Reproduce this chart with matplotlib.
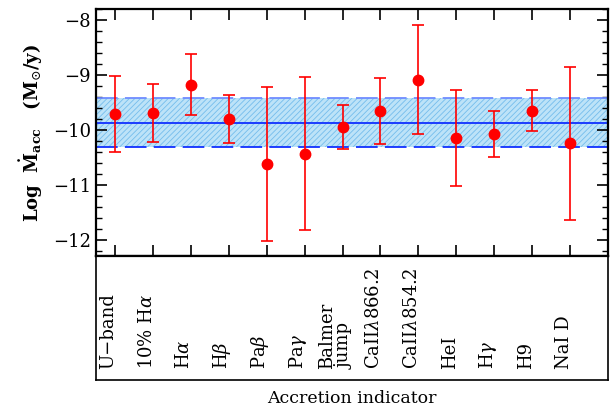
import matplotlib
matplotlib.use('Agg')
import matplotlib.pyplot as plt
from matplotlib.ticker import MultipleLocator

## values
labels = ['U\u2212band', '10% H$\\alpha$', 'H$\\alpha$', 'H$\\beta$', 'Pa$\\beta$', 'Pa$\\gamma$',
          'Balmer\njump', 'CaII$\\lambda$866.2', 'CaII$\\lambda$854.2', 'HeI', 'H$\\gamma$', 'H9', 'NaI D']
logmacc = [-9.71, -9.69, -9.18, -9.80, -10.62, -10.44, -9.95, -9.65, -9.09, -10.15, -10.07, -9.65, -10.24]
err_hi = [-9.02, -9.16, -8.61, -9.36, -9.21, -9.04, -9.55, -9.06, -8.08, -9.28, -9.66, -9.28, -8.85]
err_lo = [-10.41, -10.22, -9.73, -10.24, -12.02, -11.82, -10.34, -10.25, -10.08, -11.03, -10.49, -10.02, -11.64]
mean_val = -9.87
band_hi = -9.42
band_lo = -10.31

plt.rcParams['font.family'] = ['DejaVu Serif']
plt.rcParams['mathtext.fontset'] = 'dejavuserif'
plt.rcParams['hatch.linewidth'] = 0.6

fig = plt.figure(figsize=(6.16, 4.07), dpi=100)
ax = fig.add_axes([0.156, 0.371, 0.831, 0.606])
axb = fig.add_axes([0.156, 0.066, 0.831, 0.305])

x = list(range(len(labels)))
xlim = (-0.5, 13.0)

ax.fill_between([xlim[0], xlim[1]], band_lo, band_hi, facecolor='#bde3f8',
                edgecolor='#74bdec', hatch='//////', linewidth=0, zorder=1)
ax.axhline(mean_val, color='#1030ff', lw=1.3, zorder=2)
ax.axhline(band_hi, color='#6f8cff', lw=1.3, ls=(0, (12, 4)), zorder=2)
ax.axhline(band_lo, color='#1030ff', lw=1.3, ls=(0, (12, 4)), zorder=2)

yerr = [[v - l for v, l in zip(logmacc, err_lo)], [h - v for v, h in zip(logmacc, err_hi)]]
ax.errorbar(x, logmacc, yerr=yerr, fmt='o', color='red', ms=7.5, elinewidth=1.2,
            capsize=4.5, capthick=1.2, zorder=3)

ax.set_xlim(*xlim)
ax.set_ylim(-12.3, -7.8)
ax.yaxis.set_major_locator(MultipleLocator(1))
ax.yaxis.set_minor_locator(MultipleLocator(0.2))
ax.set_xticks(x)
ax.set_xticklabels([])
ax.tick_params(axis='both', which='major', direction='in', length=8, width=1.2,
               top=True, right=True, labelsize=13)
ax.tick_params(axis='y', which='minor', direction='in', length=4, width=1.0, right=True)
ax.tick_params(axis='x', which='minor', bottom=False, top=False)
ax.set_ylabel(r'Log  $\mathbf{\dot{M}_{acc}}$   (M$_{\odot}$/y)', fontsize=13,
              fontweight='bold', labelpad=6)
for s in ax.spines.values():
    s.set_linewidth(1.6)

axb.set_xlim(*xlim)
axb.set_ylim(0, 1)
axb.set_xticks([])
axb.set_yticks([])
for s in axb.spines.values():
    s.set_linewidth(1.2)
axb.spines['top'].set_linewidth(1.6)
for xi, lab in zip(x, labels):
    axb.text(xi - 0.17, 0.09, lab, rotation=90, ha='center', va='bottom',
             multialignment='left', fontsize=13, linespacing=0.95)
axb.set_xlabel('Accretion indicator', fontsize=12.5, labelpad=7)

fig.savefig('out.png', dpi=100)
